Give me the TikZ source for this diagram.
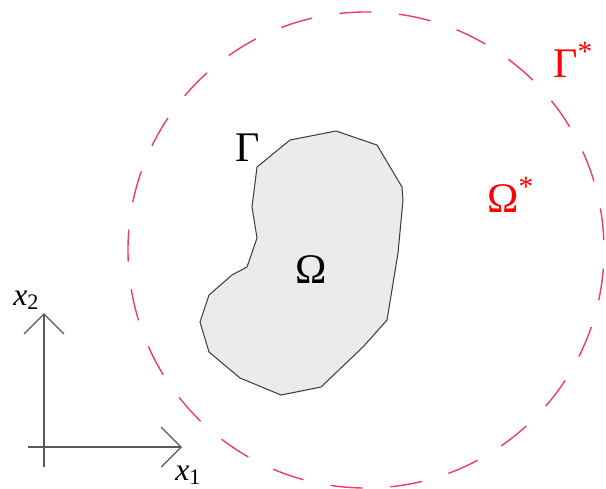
\documentclass[tikz,border=0pt]{standalone}
\usepackage{fontspec}
\setmainfont{Liberation Serif}
\usepackage{tikz}
\usetikzlibrary{arrows.meta}
\usepackage{xcolor}
\definecolor{dashred}{RGB}{238,60,100}

\begin{document}
\begin{tikzpicture}[x=0.2mm, y=-0.2mm,
    lbl/.style={inner sep=0pt, anchor=base west, font=\fontsize{24}{28}\selectfont},
    axlbl/.style={inner sep=0pt, anchor=base west, font=\fontsize{18}{22}\selectfont\itshape},
    axis/.style={black!65, line width=0.7pt, -{Straight Barb[length=4mm, width=8mm]}}]
    \useasboundingbox (0,0) rectangle (606,488);

    % 外边界 Gamma*
    \draw[dashred, line width=0.8pt, dash pattern=on 6.4mm off 5.56mm, dash phase=10mm]
        (366,250) circle [radius=47.6mm];

    % 区域 Omega
    \draw[black!75, line width=0.6pt, fill=black!8]
        (336,131) -- (290,140) -- (257,167) -- (252,207) -- (257,238)
        -- (247,267) -- (232,275) -- (209,295) -- (200,322) -- (209,352)
        -- (240,378) -- (281,395) -- (321,387) -- (363,347) -- (387,320)
        -- (398,253) -- (403,200) -- (402,187) -- (377,145) -- cycle;

    % 标注
    \node[lbl] (gam) at (235,161) {Γ};
    \node[lbl] (om) at (295,283) {Ω};
    \node[lbl, red] (gamstar) at (553,77) {Γ\textsuperscript{*}};
    \node[lbl, red] (omstar) at (487,212) {Ω\textsuperscript{*}};

    % 坐标轴
    \coordinate (x1start) at (28,447);
    \coordinate (x1tip) at (182,447);
    \coordinate (x2start) at (44,467);
    \coordinate (x2tip) at (44,313);
    \draw[axis] (x1start) -- (x1tip);
    \draw[axis] (x2start) -- (x2tip);
    \node[axlbl] (xone) at (175,480) {x\textsubscript{\upshape 1}};
    \node[axlbl] (xtwo) at (13,305) {x\textsubscript{\upshape 2}};
\end{tikzpicture}
\end{document}
